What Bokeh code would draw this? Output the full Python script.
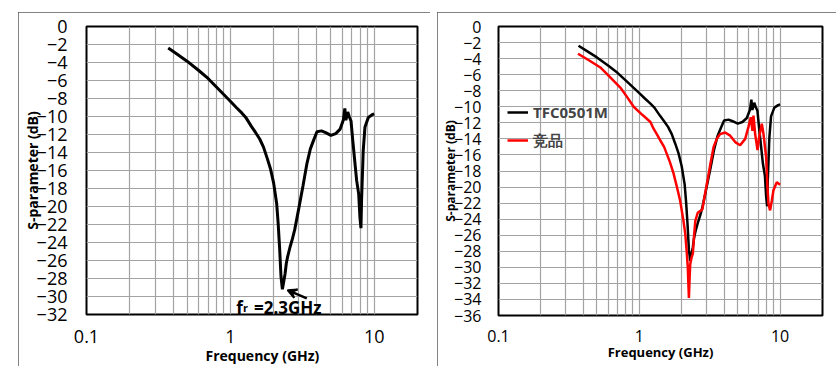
from bokeh.plotting import figure
from bokeh.models import (FixedTicker, Range1d, Label, Arrow, VeeHead, Legend,
                          LegendItem, Spacer, CustomJSTickFormatter, Title)
from bokeh.layouts import row, column
from bokeh.embed import file_html
from bokeh.resources import INLINE

# ---------------- data ----------------
black_freq = [0.37, 0.42, 0.5, 0.6, 0.7, 0.8, 0.9, 1.0, 1.1, 1.2, 1.28, 1.4, 1.5,
              1.6, 1.7, 1.8, 1.9, 2.0, 2.1, 2.15, 2.2, 2.25, 2.3, 2.33, 2.4, 2.45,
              2.5, 2.6, 2.7, 2.8, 3.0, 3.2, 3.4, 3.6, 3.8, 4.0, 4.3, 4.6, 5.0, 5.4,
              5.8, 6.1, 6.25, 6.35, 6.45, 6.55, 6.7, 6.9, 7.1, 7.55, 7.8, 7.96,
              8.09, 8.17, 8.39, 8.62, 9.1, 9.68, 10.0]
black_db = [-2.4, -3.0, -3.85, -4.86, -5.77, -6.72, -7.56, -8.3, -9.0, -9.6, -10.1,
            -11.1, -11.8, -12.5, -13.4, -14.6, -15.8, -17.4, -19.7, -21.9, -24.6,
            -27.8, -29.2, -28.7, -27.5, -26.3, -25.6, -24.5, -23.6, -22.6, -20.1,
            -17.7, -15.3, -13.6, -12.6, -11.7, -11.6, -11.8, -12.1, -11.9, -11.4,
            -10.4, -9.1, -10.4, -10.0, -9.5, -10.0, -10.5, -12.7, -17.1, -18.6,
            -21.2, -22.4, -19.3, -13.8, -11.2, -10.1, -9.8, -9.7]

red_freq = [0.367, 0.45, 0.529, 0.6, 0.733, 0.82, 0.912, 1.05, 1.2, 1.26, 1.35,
            1.41, 1.5, 1.57, 1.65, 1.75, 1.85, 1.95, 2.05, 2.12, 2.17, 2.21, 2.25,
            2.28, 2.3, 2.35, 2.4, 2.45, 2.5, 2.6, 2.7, 2.8, 2.9, 3.02, 3.2, 3.37,
            3.55, 3.75, 4.07, 4.42, 4.8, 5.2, 5.65, 5.96, 6.19, 6.36, 6.47, 6.65,
            6.91, 7.1, 7.41, 7.62, 7.96, 8.13, 8.27, 8.49, 8.73, 8.97, 9.47, 10.0]
red_db = [-3.4, -4.33, -5.1, -6.05, -7.6, -8.8, -10.0, -11.0, -11.9, -12.7, -13.6,
          -14.2, -15.0, -15.9, -16.9, -18.3, -20.0, -21.7, -24.0, -25.8, -28.0,
          -30.0, -33.8, -31.0, -29.6, -28.8, -28.3, -26.0, -24.2, -23.2, -23.0,
          -22.8, -21.3, -19.6, -17.1, -15.0, -14.0, -13.4, -13.2, -13.6, -14.4,
          -14.8, -14.0, -12.5, -11.3, -13.0, -11.1, -13.4, -15.4, -13.8, -12.1,
          -13.4, -16.3, -20.0, -22.1, -22.9, -21.7, -20.4, -19.4, -19.7]

x_major = [0.1, 1, 10]
x_minor = [0.2, 0.3, 0.4, 0.5, 0.6, 0.7, 0.8, 0.9, 2, 3, 4, 5, 6, 7, 8, 9, 20]
left_yticks = [0, -2, -4, -6, -8, -10, -12, -14, -16, -18, -20, -22, -24, -26,
               -28, -30, -32]
right_yticks = [0, -2, -4, -6, -8, -10, -12, -14, -16, -18, -20, -22, -24, -26,
                -28, -30, -32, -34, -36]
y_label = "S-parameter (dB)"
x_label = "Frequency (GHz)"
legend_labels = ["TFC0501M", "竞品"]
annot_f, annot_r, annot_rest = "f", "r", "=2.3GHz"
annot_freq = 2.3

FONT = "Open Sans"
GRID = "#a3a3a3"


def make_fig(ymin, yticks, fw, fh, bl, br, bt, bb, tick_size, std_y, std_x):
    p = figure(x_axis_type="log", x_range=Range1d(0.1, 20), y_range=Range1d(ymin, 0),
               frame_width=fw, frame_height=fh, min_border_left=bl,
               min_border_right=br, min_border_top=bt, min_border_bottom=bb,
               output_backend="svg", toolbar_location=None)
    p.styles = {"outline": "1.5px solid #5a5a5a", "outline-offset": "-1.5px"}
    p.outline_line_color = "black"
    p.outline_line_width = 2
    p.outline_line_alpha = 1
    p.xaxis.ticker = FixedTicker(ticks=x_major, minor_ticks=x_minor)
    p.xaxis.formatter = CustomJSTickFormatter(code="return tick.toString()")
    p.yaxis.ticker = FixedTicker(ticks=yticks)
    p.xgrid.ticker = p.xaxis.ticker
    for ax in (p.xaxis, p.yaxis):
        ax.axis_line_color = None
        ax.major_tick_line_color = None
        ax.minor_tick_line_color = None
        ax.major_label_text_font = FONT
        ax.major_label_text_font_size = tick_size
        ax.major_label_text_color = "black"
        ax.axis_label_text_font = FONT
        ax.axis_label_text_font_style = "bold"
        ax.axis_label_text_color = "black"
    p.yaxis.major_label_standoff = std_y
    p.xaxis.major_label_standoff = std_x
    p.xgrid.grid_line_color = GRID
    p.xgrid.minor_grid_line_color = GRID
    p.ygrid.grid_line_color = GRID
    p.xgrid.grid_line_width = 1.2
    p.xgrid.minor_grid_line_width = 1.2
    p.ygrid.grid_line_width = 1.2
    return p


def text(p, x, y, s, size):
    p.add_layout(Label(x=x, y=y, text=s, text_font=FONT, text_font_size=size,
                       text_font_style="bold", text_color="black",
                       text_baseline="alphabetic", text_align="left"))


# ---------------- left panel ----------------
p1 = make_fig(-32, left_yticks, 331, 288, 68, 13, 14, 52, "18px", 13, 9)
p1.yaxis.axis_label = y_label
p1.yaxis.axis_label_text_font_size = "14px"
p1.yaxis.axis_label_standoff = -8
p1.line(black_freq, black_db, line_color="black", line_width=3)
p1.add_layout(Title(text=x_label, align="left", offset=119, text_font=FONT,
                    text_font_size="14px", text_font_style="bold",
                    text_color="black", standoff=0, vertical_align="top"), "below")

text(p1, 1.10, -31.2, annot_f, "17px")
text(p1, 1.225, -31.2, annot_r, "11px")
text(p1, 1.46, -31.2, annot_rest, "17px")
p1.add_layout(Arrow(end=VeeHead(size=9, line_width=2, fill_color="black"),
                    x_start=3.4, y_start=-30.2, x_end=annot_freq + 0.2, y_end=-29.3,
                    line_width=2.5, line_color="black"))

# ---------------- right panel ----------------
p2 = make_fig(-36, right_yticks, 324, 289, 61, 14, 14, 51, "16px", 11, 8)
p2.yaxis.axis_label = y_label
p2.yaxis.axis_label_text_font_size = "12px"
p2.yaxis.axis_label_standoff = -8
p2.xaxis.axis_label = x_label
p2.xaxis.axis_label_text_font_size = "13px"
p2.xaxis.axis_label_standoff = -2
rb = p2.line(black_freq, black_db, line_color="black", line_width=2.5)
rr = p2.line(red_freq, red_db, line_color="#ff0000", line_width=2.5)
leg = Legend(items=[LegendItem(label=legend_labels[0], renderers=[rb]),
                    LegendItem(label=legend_labels[1], renderers=[rr])],
             location=(9, 161), border_line_color=None, background_fill_alpha=0,
             padding=0, spacing=0, margin=0, glyph_width=21, glyph_height=28,
             label_height=28, label_standoff=5, label_text_font=FONT,
             label_text_font_size="15px", label_text_font_style="bold")
p2.add_layout(leg)

layout = column(Spacer(height=12),
                row(Spacer(width=18), p1, Spacer(width=7), p2))

open("out.html", "w").write(file_html(layout, INLINE))
